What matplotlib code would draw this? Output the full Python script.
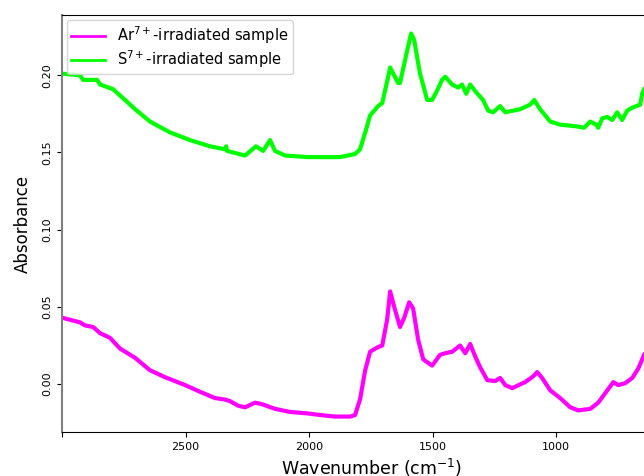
import matplotlib
matplotlib.use('Agg')
import matplotlib.pyplot as plt
import numpy as np

# S7+ irradiated sample (green), wavenumber in cm^-1 vs absorbance
s_wn = [3000, 2927, 2915, 2858, 2846, 2794, 2745, 2704, 2644, 2563, 2482, 2401,
        2340, 2336, 2332, 2259, 2215, 2186, 2158, 2138, 2097, 2004, 1875, 1814,
        1794, 1769, 1753, 1721, 1704, 1680, 1672, 1640, 1632, 1603, 1587, 1575,
        1551, 1522, 1502, 1482, 1462, 1449, 1421, 1397, 1381, 1364, 1348, 1324,
        1296, 1275, 1255, 1227, 1206, 1146, 1105, 1089, 1065, 1024, 984, 923,
        887, 862, 838, 830, 814, 794, 773, 753, 733, 713, 692, 660, 652, 644]
s_abs = [0.201, 0.200, 0.197, 0.197, 0.194, 0.191, 0.184, 0.178, 0.170, 0.163,
         0.158, 0.154, 0.152, 0.154, 0.151, 0.148, 0.154, 0.151, 0.158, 0.151,
         0.148, 0.147, 0.147, 0.149, 0.152, 0.165, 0.174, 0.180, 0.182, 0.199,
         0.205, 0.195, 0.195, 0.216, 0.227, 0.223, 0.201, 0.184, 0.184, 0.190,
         0.197, 0.199, 0.194, 0.192, 0.194, 0.188, 0.194, 0.189, 0.184, 0.177,
         0.176, 0.180, 0.176, 0.178, 0.181, 0.184, 0.178, 0.170, 0.168, 0.167,
         0.166, 0.170, 0.168, 0.166, 0.172, 0.173, 0.171, 0.176, 0.171, 0.177,
         0.179, 0.181, 0.188, 0.191]

# Ar7+ irradiated sample (magenta)
ar_wn = [3000, 2927, 2907, 2874, 2846, 2806, 2765, 2704, 2644, 2583, 2502, 2441,
         2381, 2340, 2320, 2287, 2259, 2219, 2190, 2138, 2077, 2004, 1955, 1895,
         1834, 1814, 1794, 1773, 1753, 1721, 1704, 1684, 1672, 1652, 1632, 1615,
         1595, 1579, 1559, 1538, 1502, 1470, 1449, 1421, 1389, 1368, 1348, 1328,
         1308, 1279, 1247, 1227, 1206, 1178, 1126, 1093, 1077, 1057, 1024, 984,
         943, 911, 862, 830, 802, 769, 749, 721, 692, 668, 652, 644]
ar_abs = [0.043, 0.040, 0.038, 0.037, 0.033, 0.030, 0.023, 0.017, 0.009, 0.0045,
          -0.0006, -0.005, -0.009, -0.010, -0.011, -0.014, -0.015, -0.012, -0.013,
          -0.016, -0.018, -0.019, -0.020, -0.021, -0.021, -0.020, -0.010, 0.009,
          0.021, 0.024, 0.025, 0.042, 0.060, 0.048, 0.037, 0.043, 0.053, 0.049,
          0.029, 0.016, 0.012, 0.019, 0.020, 0.021, 0.025, 0.020, 0.026, 0.018,
          0.011, 0.0026, 0.002, 0.004, -0.0006, -0.0026, 0.0013, 0.005, 0.0078,
          0.004, -0.004, -0.009, -0.015, -0.017, -0.016, -0.012, -0.006, 0.0013,
          -0.0006, 0.0006, 0.004, 0.010, 0.016, 0.019]

xticks = [2500, 2000, 1500, 1000]
yticks = [0.00, 0.05, 0.10, 0.15, 0.20]

fig = plt.figure(figsize=(6.44, 4.76), dpi=100)
# axes run past the right edge of the figure, as in the cropped original
ax = fig.add_axes([0.0963, 0.0924, 0.963, 0.8761])

ax.plot(ar_wn, ar_abs, color='#ff00ff', lw=3, label='Ar$^{7+}$-irradiated sample')
ax.plot(s_wn, s_abs, color='#00ff00', lw=3, label='S$^{7+}$-irradiated sample')

ax.set_xlim(3000, 490)
ax.set_ylim(-0.031, 0.239)
ax.set_xticks([3000] + xticks)
ax.set_xticklabels([''] + [str(t) for t in xticks], fontsize=8)
ax.set_yticks(yticks)
ax.set_yticklabels([f'{t:.2f}' for t in yticks], fontsize=8, rotation=90, va='center')

ax.spines['right'].set_visible(False)
ax.spines['left'].set_color('#808080')
ax.spines['left'].set_linewidth(1.5)

ax.set_xlabel('Wavenumber (cm$^{-1}$)', fontsize=12.5)
ax.set_ylabel('Absorbance', fontsize=12, labelpad=7.5)
leg = ax.legend(loc='upper left', fontsize=10.5, handlelength=2.3,
                labelspacing=0.15, borderpad=0.3, borderaxespad=0.35)
for line in leg.get_lines():
    line.set_linewidth(2)

fig.savefig('out.png', dpi=100)
